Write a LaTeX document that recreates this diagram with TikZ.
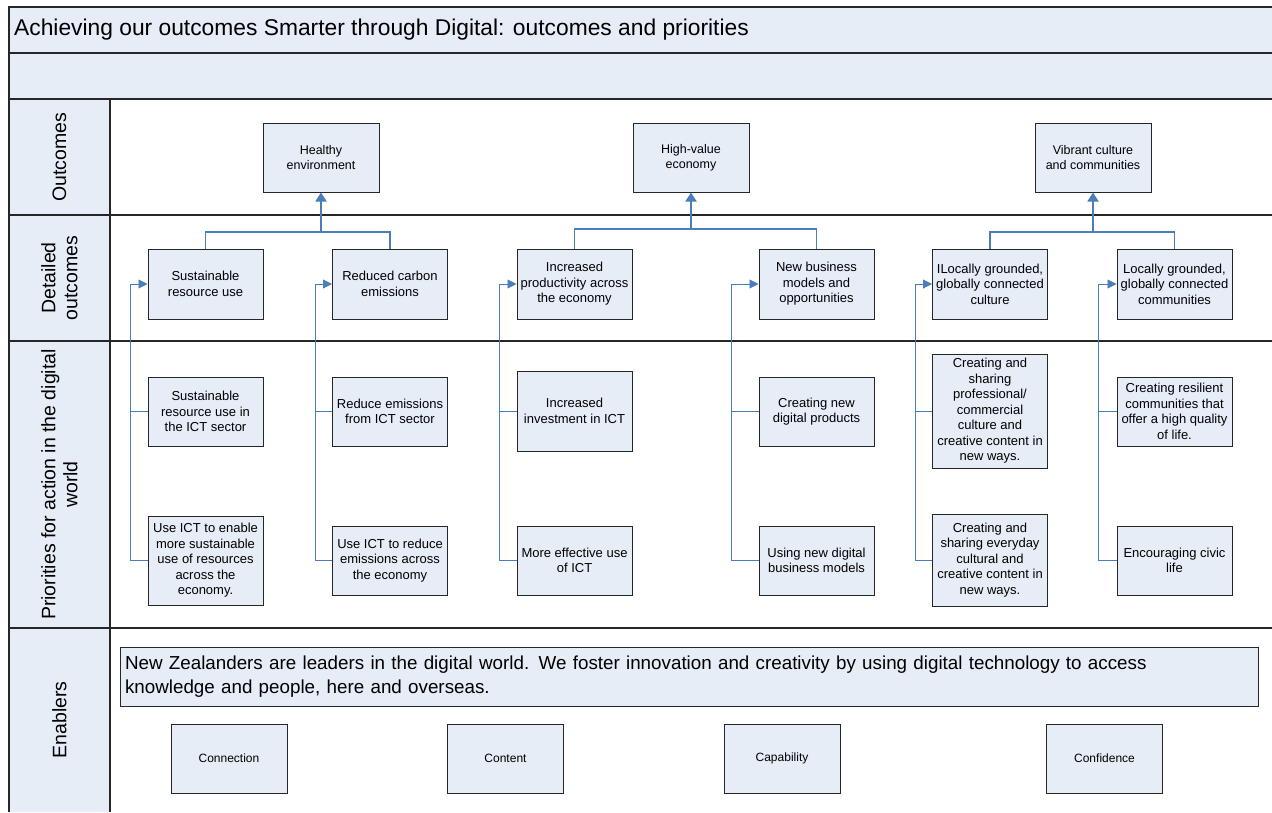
\documentclass[tikz,border=0pt]{standalone}
\usepackage{fontspec}
\setmainfont{Liberation Sans}
\usetikzlibrary{arrows.meta,calc}
\definecolor{lanefill}{RGB}{230,237,247}
\definecolor{linkblue}{RGB}{74,126,187}

\begin{document}
\begin{tikzpicture}[x=1pt,y=-1pt,
    box/.style={
      draw=black!85,
      line width=1pt,
      fill=lanefill,
      align=center,
      inner sep=2pt,
      minimum width=115pt,
      minimum height=69pt,
      font=\fontsize{13}{15.5}\selectfont
    }]
\tikzset{goal/.style = {box, minimum width=116pt, font=\fontsize{12.5}{15}\selectfont}}
\tikzset{enabler/.style = {box, minimum width=116pt, font=\fontsize{12}{14}\selectfont}}
\tikzset{lanelabel/.style = {rotate=90, align=center, inner sep=0pt, font=\fontsize{19.5}{22}\selectfont}}
\tikzset{lanerule/.style = {draw=black!85, line width=1.3pt}}
\tikzset{rise/.style = {linkblue, line width=1.8pt, -{Triangle[length=9pt,width=11pt]}}}
\tikzset{bus/.style = {linkblue, line width=1.1pt}}
\tikzset{feed/.style = {linkblue, line width=0.9pt, -{Triangle[length=9pt,width=9pt]}}}
\tikzset{twig/.style = {linkblue, line width=0.9pt}}
\useasboundingbox (0,0) rectangle (1272,812);
% bands and lanes
\fill[lanefill] (9,7) rectangle (1272,99);
\fill[lanefill] (9,99) rectangle (110,812);
\draw[lanerule] (1272,7) -- (9,7) -- (9,812);
\draw[lanerule] (9,53) -- (1272,53);
\draw[lanerule] (9,99) -- (1272,99);
\draw[lanerule] (9,215) -- (1272,215);
\draw[lanerule] (9,341) -- (1272,341);
\draw[lanerule] (9,628) -- (1272,628);
\draw[lanerule] (110,99) -- (110,812);
\node[anchor=west, inner sep=0pt, font=\fontsize{22.8}{26}\selectfont] (title) at (14,30)
  {Achieving our outcomes Smarter through Digital: outcomes and priorities};
\node[lanelabel] (lOut) at (59.5,157) {Outcomes};
\node[lanelabel] (lDet) at (59.5,278) {Detailed\\outcomes};
\node[lanelabel] (lPri) at (59.5,484.5) {Priorities for action in the digital\\world};
\node[lanelabel] (lEna) at (59.5,720) {Enablers};
% outcomes
\node[goal] (hEnv) at (321,157.5) {Healthy\\environment};
\node[goal] (hVal) at (691,157.5) {High-value\\economy};
\node[goal] (vCult) at (1093,157.5) {Vibrant culture\\and communities};
% detailed outcomes
\node[box, minimum height=70pt] (dSust) at (205.5,284) {Sustainable\\resource use};
\node[box, minimum height=70pt] (dCarb) at (390,284) {Reduced carbon\\emissions};
\node[box, minimum height=70pt] (dProd) at (574.5,284) {Increased\\productivity across\\the economy};
\node[box, minimum height=70pt] (dBiz) at (816.5,284) {New business\\models and\\opportunities};
\node[box, minimum height=70pt] (dCult) at (990,284) {ILocally grounded,\\globally connected\\culture};
\node[box, minimum height=70pt] (dComm) at (1174.5,284) {Locally grounded,\\globally connected\\communities};
% priorities
\node[box] (pSustICT) at (205.5,411.5) {Sustainable\\resource use in\\the ICT sector};
\node[box, minimum height=89pt] (pSustUse) at (205.5,560.5) {Use ICT to enable\\more sustainable\\use of resources\\across the\\economy.};
\node[box] (pEmisICT) at (390,411.5) {Reduce emissions\\from ICT sector};
\node[box] (pEmisUse) at (390,560.5) {Use ICT to reduce\\emissions across\\the economy};
\node[box, minimum height=80pt] (pInvest) at (574.5,411) {Increased\\investment in ICT};
\node[box] (pEffect) at (574.5,560.5) {More effective use\\of ICT};
\node[box] (pProd) at (816.5,411.5) {Creating new\\digital products};
\node[box] (pModel) at (816.5,560.5) {Using new digital\\business models};
\node[box, minimum height=114pt] (pProf) at (990,411) {Creating and\\sharing\\professional/\\commercial\\culture and\\creative content in\\new ways.};
\node[box, minimum height=92pt] (pEvery) at (990,560) {Creating and\\sharing everyday\\cultural and\\creative content in\\new ways.};
\node[box] (pResil) at (1174.5,411.5) {Creating resilient\\communities that\\offer a high quality\\of life.};
\node[box] (pCivic) at (1174.5,560.5) {Encouraging civic\\life};
% enablers
\node[box, minimum width=1138pt, minimum height=59pt, align=left, text width=1128pt,
  inner sep=4pt, font=\fontsize{18.8}{23.5}\selectfont] (eText) at (689,676.5)
  {New Zealanders are leaders in the digital world. We foster innovation and creativity by using digital technology to access\\knowledge and people, here and overseas.};
\node[enabler] (eConn) at (229,758.5) {Connection};
\node[enabler] (eCont) at (505.5,758.5) {Content};
\node[enabler] (eCapa) at (782,758.5) {Capability};
\node[enabler] (eConf) at (1104.5,758.5) {Confidence};
% detailed outcomes up to outcomes
\coordinate (jEnv) at (321,232);
\coordinate (jVal) at (691,229);
\coordinate (jCult) at (1093,232);
\draw[bus] (dSust.north) |- (jEnv) -| (dCarb.north);
\draw[bus] (dProd.north) |- (jVal) -| (dBiz.north);
\draw[bus] (dCult.north) |- (jCult) -| (dComm.north);
\draw[rise] (jEnv) -- (hEnv.south);
\draw[rise] (jVal) -- (hVal.south);
\draw[rise] (jCult) -- (vCult.south);
% priorities into detailed outcomes
\coordinate (tSust) at ($(dSust.west)+(-17,0)$);
\coordinate (tCarb) at ($(dCarb.west)+(-17,0)$);
\coordinate (tProd) at ($(dProd.west)+(-17,0)$);
\coordinate (tBiz) at ($(dBiz.west)+(-27,0)$);
\coordinate (tCult) at ($(dCult.west)+(-17,0)$);
\coordinate (tComm) at ($(dComm.west)+(-18,0)$);
\draw[feed] (pSustUse.west) -| (tSust) -- (dSust.west);
\draw[twig] (pSustICT.west) -- (pSustICT.west -| tSust);
\draw[feed] (pEmisUse.west) -| (tCarb) -- (dCarb.west);
\draw[twig] (pEmisICT.west) -- (pEmisICT.west -| tCarb);
\draw[feed] (pEffect.west) -| (tProd) -- (dProd.west);
\draw[twig] (pInvest.west) -- (pInvest.west -| tProd);
\draw[feed] (pModel.west) -| (tBiz) -- (dBiz.west);
\draw[twig] (pProd.west) -- (pProd.west -| tBiz);
\draw[feed] (pEvery.west) -| (tCult) -- (dCult.west);
\draw[twig] (pProf.west) -- (pProf.west -| tCult);
\draw[feed] (pCivic.west) -| (tComm) -- (dComm.west);
\draw[twig] (pResil.west) -- (pResil.west -| tComm);
\end{tikzpicture}
\end{document}
